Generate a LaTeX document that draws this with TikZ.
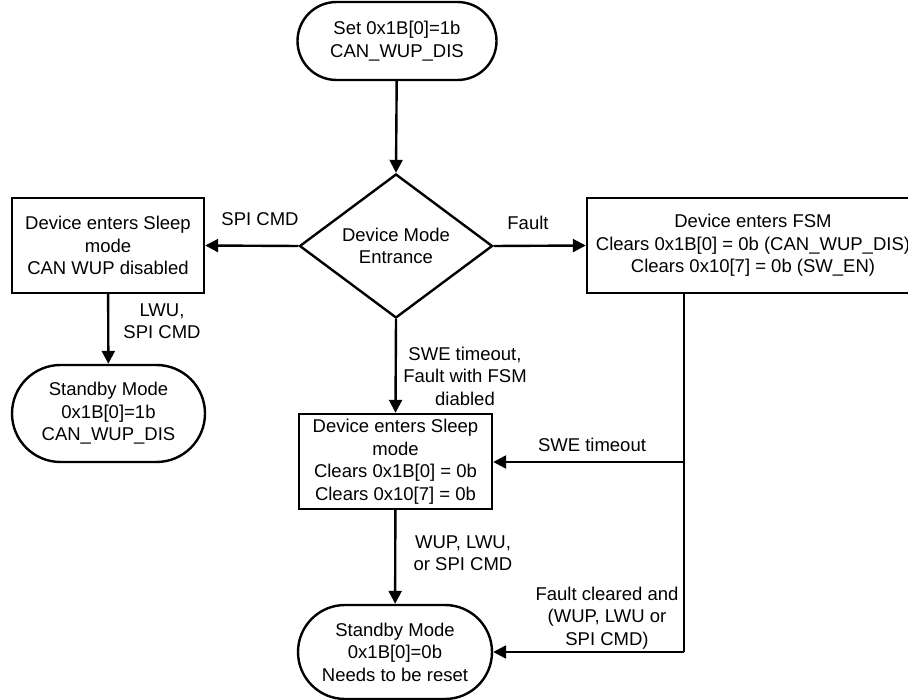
\documentclass[tikz,border=0pt]{standalone}
\usepackage{fontspec}
\setmainfont{Liberation Sans}
\usetikzlibrary{shapes.geometric,shapes.misc,arrows.meta}
\begin{document}
\begin{tikzpicture}[x=1pt,y=-1pt,
  every node/.style={font=\fontsize{18.5}{22.5}\selectfont},
  box/.style={draw,line width=2.4pt,rectangle,inner sep=0pt,align=center},
  term/.style={draw,line width=2.4pt,rounded rectangle,inner sep=0pt,align=center},
  dec/.style={draw,line width=2.4pt,diamond,aspect=1.34,inner sep=0pt,align=center,minimum width=193pt,minimum height=144pt},
  lbl/.style={inner sep=0pt,align=center},
  conn/.style={line width=2.4pt,-{Triangle[length=13pt,width=13pt]}},
  plain/.style={line width=2.4pt}]
\useasboundingbox (0,0) rectangle (908,700);
\clip (0,0) rectangle (908,700);
\node[term,minimum width=199pt,minimum height=78pt] (top) at (397,41) {Set 0x1B[0]=1b\\CAN\_WUP\_DIS};
\node[dec] (dia) at (396,246) {Device Mode\\Entrance};
\node[box,minimum width=192pt,minimum height=95pt] (lbox) at (108,245.5) {Device enters Sleep\\mode\\CAN WUP disabled};
\node[box,minimum width=332pt,minimum height=95pt] (rbox) at (753,245.5) {Device enters FSM\\Clears 0x1B[0] = 0b (CAN\_WUP\_DIS)\\Clears 0x10[7] = 0b (SW\_EN)};
\node[box,minimum width=193pt,minimum height=95pt] (mbox) at (395.5,461.5) {Device enters Sleep\\mode\\Clears 0x1B[0] = 0b\\Clears 0x10[7] = 0b};
\node[term,minimum width=193pt,minimum height=97pt] (lsb) at (108.5,413.5) {Standby Mode\\0x1B[0]=1b\\CAN\_WUP\_DIS};
\node[term,minimum width=194pt,minimum height=94pt] (bsb) at (395,652) {Standby Mode\\0x1B[0]=0b\\Needs to be reset};
\coordinate (jt) at (684,293);
\coordinate (j1) at (684,462);
\coordinate (j2) at (684,652);
\draw[conn] (top) -- (dia.north);
\draw[conn] (dia.west) -- (lbox.east);
\draw[conn] (dia.east) -- (rbox.west);
\draw[conn] (lbox) -- (lsb);
\draw[conn] (dia.south) -- (mbox.north);
\draw[conn] (mbox) -- (bsb);
\draw[plain] (jt) -- (j2);
\draw[conn] (j1) -- (mbox.east |- j1);
\draw[conn] (j2) -- (bsb.east);
\node[lbl] (l1) at (260,219) {SPI CMD};
\node[lbl] (l2) at (528,223) {Fault};
\node[lbl] (l3) at (162,321) {LWU,\\SPI CMD};
\node[lbl] (l4) at (465,376) {SWE timeout,\\Fault with FSM\\diabled};
\node[lbl] (l5) at (463,553) {WUP, LWU,\\or SPI CMD};
\node[lbl] (l6) at (592,445) {SWE timeout};
\node[lbl] (l7) at (607,618) {Fault cleared and\\(WUP, LWU or\\SPI CMD)};
\end{tikzpicture}
\end{document}
